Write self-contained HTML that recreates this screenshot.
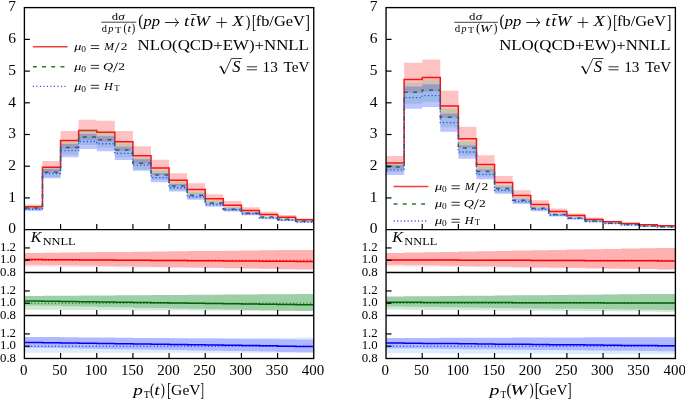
<!DOCTYPE html>
<html><head><meta charset="utf-8"><style>
html,body{margin:0;padding:0;background:#fff;}
svg{display:block;will-change:transform;}
text{font-family:"Liberation Serif", serif;fill:#000;}
</style></head><body>
<svg width="685" height="399" viewBox="0 0 685 399">
<rect width="685" height="399" fill="#fff"/>
<path d="M24.4 204.5H42.48V208.76H24.4ZM42.48 161H60.57V172.75H42.48ZM60.57 131.05H78.65V148.69H60.57ZM78.65 119.8H96.74V139.8H78.65ZM96.74 120.8H114.82V141.81H96.74ZM114.82 131H132.91V150.64H114.82ZM132.91 146.3H150.99V163.45H132.91ZM150.99 159.8H169.08V174.65H150.99ZM169.08 173.2H187.16V185.7H169.08ZM187.16 183.3H205.24V194.01H187.16ZM205.24 194.3H223.33V202.35H205.24ZM223.33 201H241.41V208.17H223.33ZM241.41 207.3H259.5V212.73H241.41ZM259.5 211.85H277.58V216.37H259.5ZM277.58 215H295.67V218.78H277.58ZM295.67 218.5H313.75V221.07H295.67Z" fill="#ff0000" fill-opacity="0.24"/>
<path d="M25.1 206.8 L42.48 206.8 L42.48 167.2 L60.57 167.2 L60.57 140.5 L78.65 140.5 L78.65 130.4 L96.74 130.4 L96.74 132.3 L114.82 132.3 L114.82 141.8 L132.91 141.8 L132.91 155.8 L150.99 155.8 L150.99 168.1 L169.08 168.1 L169.08 180.3 L187.16 180.3 L187.16 189.5 L205.24 189.5 L205.24 198.8 L223.33 198.8 L223.33 205.3 L241.41 205.3 L241.41 210.4 L259.5 210.4 L259.5 214.5 L277.58 214.5 L277.58 217.2 L295.67 217.2 L295.67 219.8 L313.05 219.8" fill="none" stroke="#ff1010" stroke-width="1.5"/>
<path d="M24.4 206.49H42.48V209.77H24.4ZM42.48 168.1H60.57V177.11H42.48ZM60.57 141.31H78.65V154.63H60.57ZM78.65 129.48H96.74V145.02H78.65ZM96.74 132.32H114.82V147.83H96.74ZM114.82 143.21H132.91V157.36H114.82ZM132.91 157.22H150.99V169.39H132.91ZM150.99 169.79H169.08V180.1H150.99ZM169.08 181.68H187.16V190.14H169.08ZM187.16 191.87H205.24V198.69H187.16ZM205.24 200.14H223.33V205.59H205.24ZM223.33 207.02H241.41V211.29H223.33ZM241.41 211.4H259.5V214.91H241.41ZM259.5 215.46H277.58V218.25H259.5ZM277.58 218.1H295.67V220.41H277.58ZM295.67 220.19H313.75V222.12H295.67Z" fill="#00be46" fill-opacity="0.18"/>
<path d="M25.1 208 L42.48 208 L42.48 172.3 L60.57 172.3 L60.57 147.6 L78.65 147.6 L78.65 136.9 L96.74 136.9 L96.74 139.8 L114.82 139.8 L114.82 150.1 L132.91 150.1 L132.91 163.2 L150.99 163.2 L150.99 174.9 L169.08 174.9 L169.08 185.9 L187.16 185.9 L187.16 195.3 L205.24 195.3 L205.24 202.9 L223.33 202.9 L223.33 209.2 L241.41 209.2 L241.41 213.2 L259.5 213.2 L259.5 216.9 L277.58 216.9 L277.58 219.3 L295.67 219.3 L295.67 221.2 L313.05 221.2" fill="none" stroke="#1e7d1e" stroke-width="1.5" stroke-dasharray="3.9 5.3"/>
<path d="M24.4 207.64H42.48V211.01H24.4ZM42.48 168.94H60.57V178.35H42.48ZM60.57 143.93H78.65V157.35H60.57ZM78.65 133.96H96.74V149.09H78.65ZM96.74 136.35H114.82V151.26H96.74ZM114.82 146.69H132.91V160.08H114.82ZM132.91 159.35H150.99V170.8H132.91ZM150.99 172.9H169.08V182.23H150.99ZM169.08 183.97H187.16V191.56H169.08ZM187.16 193.76H205.24V199.77H187.16ZM205.24 202.14H223.33V206.79H205.24ZM223.33 207.92H241.41V211.62H223.33ZM241.41 212.28H259.5V215.27H241.41ZM259.5 216.98H277.58V219.18H259.5ZM277.58 219.27H295.67V221.09H277.58ZM295.67 221.24H313.75V222.72H295.67Z" fill="#283cff" fill-opacity="0.3"/>
<path d="M25.1 209.3 L42.48 209.3 L42.48 173.6 L60.57 173.6 L60.57 150.6 L78.65 150.6 L78.65 141.5 L96.74 141.5 L96.74 143.8 L114.82 143.8 L114.82 153.4 L132.91 153.4 L132.91 165.1 L150.99 165.1 L150.99 177.6 L169.08 177.6 L169.08 187.8 L187.16 187.8 L187.16 196.8 L205.24 196.8 L205.24 204.5 L223.33 204.5 L223.33 209.8 L241.41 209.8 L241.41 213.8 L259.5 213.8 L259.5 218.1 L277.58 218.1 L277.58 220.2 L295.67 220.2 L295.67 222 L313.05 222" fill="none" stroke="#3c3cff" stroke-width="1.4" stroke-dasharray="1.2 2.3"/>
<path d="M24.4 254.08H42.48V266.42H24.4ZM42.48 253.88H60.57V266.58H42.48ZM60.57 253.67H78.65V266.74H60.57ZM78.65 253.47H96.74V266.9H78.65ZM96.74 253.26H114.82V267.06H96.74ZM114.82 253.06H132.91V267.22H114.82ZM132.91 252.85H150.99V267.38H132.91ZM150.99 252.65H169.08V267.54H150.99ZM169.08 252.44H187.16V267.7H169.08ZM187.16 252.24H205.24V267.86H187.16ZM205.24 252.03H223.33V268.02H205.24ZM223.33 251.83H241.41V268.18H223.33ZM241.41 251.62H259.5V268.34H241.41ZM259.5 251.42H277.58V268.5H259.5ZM277.58 251.21H295.67V268.66H277.58ZM295.67 251.01H313.75V268.82H295.67Z" fill="#ffdcdc"/>
<path d="M24.4 252.91H42.48V264.64H24.4ZM42.48 252.71H60.57V264.96H42.48ZM60.57 252.51H78.65V265.29H60.57ZM78.65 252.31H96.74V265.61H78.65ZM96.74 252.11H114.82V265.93H96.74ZM114.82 251.91H132.91V266.26H114.82ZM132.91 251.71H150.99V266.58H132.91ZM150.99 251.51H169.08V266.9H150.99ZM169.08 251.31H187.16V267.23H169.08ZM187.16 251.11H205.24V267.55H187.16ZM205.24 250.91H223.33V267.87H205.24ZM223.33 250.71H241.41V268.2H223.33ZM241.41 250.51H259.5V268.52H241.41ZM259.5 250.31H277.58V268.84H259.5ZM277.58 250.11H295.67V269.17H277.58ZM295.67 249.9H313.75V269.49H295.67Z" fill="#ffb0b0"/>
<line x1="24.4" y1="260.22" x2="313.75" y2="260.22" stroke="#ff0000" stroke-width="1" stroke-dasharray="1 2.4"/>
<path d="M24.4 259.61 L42.48 259.61 L42.48 259.73 L60.57 259.73 L60.57 259.85 L78.65 259.85 L78.65 259.97 L96.74 259.97 L96.74 260.1 L114.82 260.1 L114.82 260.22 L132.91 260.22 L132.91 260.34 L150.99 260.34 L150.99 260.47 L169.08 260.47 L169.08 260.59 L187.16 260.59 L187.16 260.71 L205.24 260.71 L205.24 260.83 L223.33 260.83 L223.33 260.96 L241.41 260.96 L241.41 261.08 L259.5 261.08 L259.5 261.2 L277.58 261.2 L277.58 261.33 L295.67 261.33 L295.67 261.45 L313.75 261.45" fill="none" stroke="#ff0000" stroke-width="1.5"/>
<line x1="24.4" y1="247.94" x2="29.9" y2="247.94" stroke="#000" stroke-width="1.2"/>
<line x1="24.4" y1="260.22" x2="29.9" y2="260.22" stroke="#000" stroke-width="1.2"/>
<line x1="60.57" y1="272.5" x2="60.57" y2="267" stroke="#000" stroke-width="1.2"/>
<line x1="96.74" y1="272.5" x2="96.74" y2="267" stroke="#000" stroke-width="1.2"/>
<line x1="132.91" y1="272.5" x2="132.91" y2="267" stroke="#000" stroke-width="1.2"/>
<line x1="169.08" y1="272.5" x2="169.08" y2="267" stroke="#000" stroke-width="1.2"/>
<line x1="205.24" y1="272.5" x2="205.24" y2="267" stroke="#000" stroke-width="1.2"/>
<line x1="241.41" y1="272.5" x2="241.41" y2="267" stroke="#000" stroke-width="1.2"/>
<line x1="277.58" y1="272.5" x2="277.58" y2="267" stroke="#000" stroke-width="1.2"/>
<path d="M24.4 297.08H42.48V309.73H24.4ZM42.48 296.88H60.57V309.81H42.48ZM60.57 296.67H78.65V309.88H60.57ZM78.65 296.47H96.74V309.96H78.65ZM96.74 296.26H114.82V310.04H96.74ZM114.82 296.06H132.91V310.12H114.82ZM132.91 295.85H150.99V310.2H132.91ZM150.99 295.65H169.08V310.27H150.99ZM169.08 295.44H187.16V310.35H169.08ZM187.16 295.24H205.24V310.43H187.16ZM205.24 295.03H223.33V310.51H205.24ZM223.33 294.83H241.41V310.58H223.33ZM241.41 294.62H259.5V310.66H241.41ZM259.5 294.42H277.58V310.74H259.5ZM277.58 294.21H295.67V310.82H277.58ZM295.67 294.01H313.75V310.9H295.67Z" fill="#cfe9d4"/>
<path d="M24.4 295.91H42.48V305.43H24.4ZM42.48 295.79H60.57V305.81H42.48ZM60.57 295.66H78.65V306.18H60.57ZM78.65 295.53H96.74V306.56H78.65ZM96.74 295.41H114.82V306.94H96.74ZM114.82 295.28H132.91V307.31H114.82ZM132.91 295.15H150.99V307.69H132.91ZM150.99 295.03H169.08V308.07H150.99ZM169.08 294.9H187.16V308.44H169.08ZM187.16 294.77H205.24V308.82H187.16ZM205.24 294.64H223.33V309.2H205.24ZM223.33 294.52H241.41V309.57H223.33ZM241.41 294.39H259.5V309.95H241.41ZM259.5 294.26H277.58V310.33H259.5ZM277.58 294.14H295.67V310.7H277.58ZM295.67 294.01H313.75V311.08H295.67Z" fill="#9ccfa6"/>
<line x1="24.4" y1="303.22" x2="313.75" y2="303.22" stroke="#006400" stroke-width="1" stroke-dasharray="1 2.4"/>
<path d="M24.4 300.95 L42.48 300.95 L42.48 301.19 L60.57 301.19 L60.57 301.44 L78.65 301.44 L78.65 301.69 L96.74 301.69 L96.74 301.93 L114.82 301.93 L114.82 302.18 L132.91 302.18 L132.91 302.42 L150.99 302.42 L150.99 302.67 L169.08 302.67 L169.08 302.91 L187.16 302.91 L187.16 303.16 L205.24 303.16 L205.24 303.4 L223.33 303.4 L223.33 303.65 L241.41 303.65 L241.41 303.9 L259.5 303.9 L259.5 304.14 L277.58 304.14 L277.58 304.39 L295.67 304.39 L295.67 304.63 L313.75 304.63" fill="none" stroke="#006400" stroke-width="1.5"/>
<line x1="24.4" y1="290.94" x2="29.9" y2="290.94" stroke="#000" stroke-width="1.2"/>
<line x1="24.4" y1="303.22" x2="29.9" y2="303.22" stroke="#000" stroke-width="1.2"/>
<line x1="60.57" y1="315.5" x2="60.57" y2="310" stroke="#000" stroke-width="1.2"/>
<line x1="96.74" y1="315.5" x2="96.74" y2="310" stroke="#000" stroke-width="1.2"/>
<line x1="132.91" y1="315.5" x2="132.91" y2="310" stroke="#000" stroke-width="1.2"/>
<line x1="169.08" y1="315.5" x2="169.08" y2="310" stroke="#000" stroke-width="1.2"/>
<line x1="205.24" y1="315.5" x2="205.24" y2="310" stroke="#000" stroke-width="1.2"/>
<line x1="241.41" y1="315.5" x2="241.41" y2="310" stroke="#000" stroke-width="1.2"/>
<line x1="277.58" y1="315.5" x2="277.58" y2="310" stroke="#000" stroke-width="1.2"/>
<path d="M24.4 338.85H42.48V352.73H24.4ZM42.48 338.77H60.57V352.74H42.48ZM60.57 338.69H78.65V352.76H60.57ZM78.65 338.61H96.74V352.78H78.65ZM96.74 338.52H114.82V352.79H96.74ZM114.82 338.44H132.91V352.81H114.82ZM132.91 338.36H150.99V352.83H132.91ZM150.99 338.28H169.08V352.84H150.99ZM169.08 338.2H187.16V352.86H169.08ZM187.16 338.12H205.24V352.88H187.16ZM205.24 338.03H223.33V352.89H205.24ZM223.33 337.95H241.41V352.91H223.33ZM241.41 337.87H259.5V352.92H241.41ZM259.5 337.79H277.58V352.94H259.5ZM277.58 337.71H295.67V352.96H277.58ZM295.67 337.62H313.75V352.97H295.67Z" fill="#dcecff"/>
<path d="M24.4 336.89H42.48V347.76H24.4ZM42.48 337.06H60.57V348.05H42.48ZM60.57 337.23H78.65V348.34H60.57ZM78.65 337.4H96.74V348.64H78.65ZM96.74 337.57H114.82V348.93H96.74ZM114.82 337.75H132.91V349.23H114.82ZM132.91 337.92H150.99V349.52H132.91ZM150.99 338.09H169.08V349.82H150.99ZM169.08 338.26H187.16V350.11H169.08ZM187.16 338.43H205.24V350.41H187.16ZM205.24 338.61H223.33V350.7H205.24ZM223.33 338.78H241.41V351H223.33ZM241.41 338.95H259.5V351.29H241.41ZM259.5 339.12H277.58V351.59H259.5ZM277.58 339.29H295.67V351.88H277.58ZM295.67 339.47H313.75V352.18H295.67Z" fill="#b0b8ff"/>
<line x1="24.4" y1="346.22" x2="313.75" y2="346.22" stroke="#0000ff" stroke-width="1" stroke-dasharray="1 2.4"/>
<path d="M24.4 342.41 L42.48 342.41 L42.48 342.68 L60.57 342.68 L60.57 342.95 L78.65 342.95 L78.65 343.21 L96.74 343.21 L96.74 343.48 L114.82 343.48 L114.82 343.74 L132.91 343.74 L132.91 344.01 L150.99 344.01 L150.99 344.28 L169.08 344.28 L169.08 344.54 L187.16 344.54 L187.16 344.81 L205.24 344.81 L205.24 345.07 L223.33 345.07 L223.33 345.34 L241.41 345.34 L241.41 345.61 L259.5 345.61 L259.5 345.87 L277.58 345.87 L277.58 346.14 L295.67 346.14 L295.67 346.4 L313.75 346.4" fill="none" stroke="#0000ff" stroke-width="1.5"/>
<line x1="24.4" y1="333.94" x2="29.9" y2="333.94" stroke="#000" stroke-width="1.2"/>
<line x1="24.4" y1="346.22" x2="29.9" y2="346.22" stroke="#000" stroke-width="1.2"/>
<line x1="60.57" y1="358.5" x2="60.57" y2="353" stroke="#000" stroke-width="1.2"/>
<line x1="96.74" y1="358.5" x2="96.74" y2="353" stroke="#000" stroke-width="1.2"/>
<line x1="132.91" y1="358.5" x2="132.91" y2="353" stroke="#000" stroke-width="1.2"/>
<line x1="169.08" y1="358.5" x2="169.08" y2="353" stroke="#000" stroke-width="1.2"/>
<line x1="205.24" y1="358.5" x2="205.24" y2="353" stroke="#000" stroke-width="1.2"/>
<line x1="241.41" y1="358.5" x2="241.41" y2="353" stroke="#000" stroke-width="1.2"/>
<line x1="277.58" y1="358.5" x2="277.58" y2="353" stroke="#000" stroke-width="1.2"/>
<line x1="24.4" y1="197.9" x2="29.9" y2="197.9" stroke="#000" stroke-width="1.2"/>
<line x1="24.4" y1="166.2" x2="29.9" y2="166.2" stroke="#000" stroke-width="1.2"/>
<line x1="24.4" y1="134.5" x2="29.9" y2="134.5" stroke="#000" stroke-width="1.2"/>
<line x1="24.4" y1="102.8" x2="29.9" y2="102.8" stroke="#000" stroke-width="1.2"/>
<line x1="24.4" y1="71.1" x2="29.9" y2="71.1" stroke="#000" stroke-width="1.2"/>
<line x1="24.4" y1="39.4" x2="29.9" y2="39.4" stroke="#000" stroke-width="1.2"/>
<line x1="60.57" y1="229.6" x2="60.57" y2="224.1" stroke="#000" stroke-width="1.2"/>
<line x1="96.74" y1="229.6" x2="96.74" y2="224.1" stroke="#000" stroke-width="1.2"/>
<line x1="132.91" y1="229.6" x2="132.91" y2="224.1" stroke="#000" stroke-width="1.2"/>
<line x1="169.08" y1="229.6" x2="169.08" y2="224.1" stroke="#000" stroke-width="1.2"/>
<line x1="205.24" y1="229.6" x2="205.24" y2="224.1" stroke="#000" stroke-width="1.2"/>
<line x1="241.41" y1="229.6" x2="241.41" y2="224.1" stroke="#000" stroke-width="1.2"/>
<line x1="277.58" y1="229.6" x2="277.58" y2="224.1" stroke="#000" stroke-width="1.2"/>
<rect x="24.4" y="7.6" width="289.35" height="350.9" fill="none" stroke="#000" stroke-width="1.35"/>
<line x1="24.4" y1="229.6" x2="313.75" y2="229.6" stroke="#000" stroke-width="1.3"/>
<line x1="24.4" y1="272.5" x2="313.75" y2="272.5" stroke="#000" stroke-width="1.3"/>
<line x1="24.4" y1="315.5" x2="313.75" y2="315.5" stroke="#000" stroke-width="1.3"/>
<path d="M386.05 156.05H404.13V168.64H386.05ZM404.13 62.8H422.22V92.76H404.13ZM422.22 59.5H440.3V91.56H422.22ZM440.3 90.7H458.39V117.76H440.3ZM458.39 126.8H476.47V147.67H458.39ZM476.47 155.3H494.56V170.96H476.47ZM494.56 176H512.64V187.47H494.56ZM512.64 190.3H530.73V199.13H512.64ZM530.73 200.3H548.81V207.25H530.73ZM548.81 208.4H566.89V213.62H548.81ZM566.89 213.4H584.98V217.13H566.89ZM584.98 217.6H603.06V220.69H584.98ZM603.06 220.8H621.15V222.66H603.06ZM621.15 222.7H639.23V224.17H621.15ZM639.23 224H657.32V225.41H639.23ZM657.32 224.9H675.4V226.21H657.32Z" fill="#ff0000" fill-opacity="0.24"/>
<path d="M386.75 162.9 L404.13 162.9 L404.13 79.4 L422.22 79.4 L422.22 77.6 L440.3 77.6 L440.3 106.05 L458.39 106.05 L458.39 138.8 L476.47 138.8 L476.47 164.4 L494.56 164.4 L494.56 182.6 L512.64 182.6 L512.64 195.5 L530.73 195.5 L530.73 204.5 L548.81 204.5 L548.81 211.6 L566.89 211.6 L566.89 215.5 L584.98 215.5 L584.98 219.5 L603.06 219.5 L603.06 221.7 L621.15 221.7 L621.15 223.4 L639.23 223.4 L639.23 224.8 L657.32 224.8 L657.32 225.7 L674.7 225.7" fill="none" stroke="#ff1010" stroke-width="1.5"/>
<path d="M386.05 162.72H404.13V172.22H386.05ZM404.13 82.23H422.22V103.81H404.13ZM422.22 79.19H440.3V101.88H422.22ZM440.3 108.32H458.39V127.14H440.3ZM458.39 141.31H476.47V155.39H458.39ZM476.47 166.36H494.56V176.72H476.47ZM494.56 184.91H512.64V192.42H494.56ZM512.64 197.57H530.73V203.09H512.64ZM530.73 206.13H548.81V210.27H530.73ZM548.81 212.88H566.89V215.9H548.81ZM566.89 216.69H584.98V219.08H566.89ZM584.98 220.08H603.06V221.88H584.98ZM603.06 222.61H621.15V223.96H603.06ZM621.15 223.92H639.23V225.04H621.15ZM639.23 225.58H657.32V226.39H639.23ZM657.32 226.46H675.4V227.11H657.32Z" fill="#00be46" fill-opacity="0.18"/>
<path d="M386.75 167.1 L404.13 167.1 L404.13 92.3 L422.22 92.3 L422.22 89.9 L440.3 89.9 L440.3 117.3 L458.39 117.3 L458.39 148.1 L476.47 148.1 L476.47 171.4 L494.56 171.4 L494.56 188.6 L512.64 188.6 L512.64 200.3 L530.73 200.3 L530.73 208.2 L548.81 208.2 L548.81 214.4 L566.89 214.4 L566.89 217.9 L584.98 217.9 L584.98 221 L603.06 221 L603.06 223.3 L621.15 223.3 L621.15 224.5 L639.23 224.5 L639.23 226 L657.32 226 L657.32 226.8 L674.7 226.8" fill="none" stroke="#1e7d1e" stroke-width="1.5" stroke-dasharray="3.9 5.3"/>
<path d="M386.05 165H404.13V174.91H386.05ZM404.13 86.62H422.22V108.78H404.13ZM422.22 84.29H440.3V107.05H422.22ZM440.3 113.44H458.39V131.82H440.3ZM458.39 145.26H476.47V158.75H458.39ZM476.47 169.54H494.56V179.24H476.47ZM494.56 186.79H512.64V193.77H494.56ZM512.64 198.96H530.73V204H512.64ZM530.73 207.55H548.81V211.22H530.73ZM548.81 213.75H566.89V216.41H548.81ZM566.89 217.57H584.98V219.6H566.89ZM584.98 220.84H603.06V222.34H584.98ZM603.06 222.91H621.15V224.07H603.06ZM621.15 224.55H639.23V225.43H621.15ZM639.23 225.97H657.32V226.61H639.23ZM657.32 226.85H675.4V227.34H657.32Z" fill="#283cff" fill-opacity="0.3"/>
<path d="M386.75 169.9 L404.13 169.9 L404.13 97.6 L422.22 97.6 L422.22 95.6 L440.3 95.6 L440.3 122.6 L458.39 122.6 L458.39 152 L476.47 152 L476.47 174.4 L494.56 174.4 L494.56 190.3 L512.64 190.3 L512.64 201.5 L530.73 201.5 L530.73 209.4 L548.81 209.4 L548.81 215.1 L566.89 215.1 L566.89 218.6 L584.98 218.6 L584.98 221.6 L603.06 221.6 L603.06 223.5 L621.15 223.5 L621.15 225 L639.23 225 L639.23 226.3 L657.32 226.3 L657.32 227.1 L674.7 227.1" fill="none" stroke="#3c3cff" stroke-width="1.4" stroke-dasharray="1.2 2.3"/>
<path d="M386.05 254.08H404.13V266.18H386.05ZM404.13 253.88H422.22V266.39H404.13ZM422.22 253.67H440.3V266.61H422.22ZM440.3 253.47H458.39V266.83H440.3ZM458.39 253.26H476.47V267.04H458.39ZM476.47 253.06H494.56V267.26H476.47ZM494.56 252.85H512.64V267.48H494.56ZM512.64 252.65H530.73V267.69H512.64ZM530.73 252.44H548.81V267.91H530.73ZM548.81 252.24H566.89V268.13H548.81ZM566.89 252.03H584.98V268.35H566.89ZM584.98 251.83H603.06V268.56H584.98ZM603.06 251.62H621.15V268.78H603.06ZM621.15 251.42H639.23V269H621.15ZM639.23 251.21H657.32V269.21H639.23ZM657.32 251.01H675.4V269.43H657.32Z" fill="#ffdcdc"/>
<path d="M386.05 252.91H404.13V264.7H386.05ZM404.13 252.58H422.22V265.02H404.13ZM422.22 252.25H440.3V265.33H422.22ZM440.3 251.92H458.39V265.65H440.3ZM458.39 251.59H476.47V265.96H458.39ZM476.47 251.26H494.56V266.28H476.47ZM494.56 250.92H512.64V266.59H494.56ZM512.64 250.59H530.73V266.91H512.64ZM530.73 250.26H548.81V267.22H530.73ZM548.81 249.93H566.89V267.54H548.81ZM566.89 249.6H584.98V267.85H566.89ZM584.98 249.27H603.06V268.17H584.98ZM603.06 248.93H621.15V268.48H603.06ZM621.15 248.6H639.23V268.8H621.15ZM639.23 248.27H657.32V269.11H639.23ZM657.32 247.94H675.4V269.43H657.32Z" fill="#ffb0b0"/>
<line x1="386.05" y1="260.22" x2="675.4" y2="260.22" stroke="#ff0000" stroke-width="1" stroke-dasharray="1 2.4"/>
<path d="M386.05 259.91 L404.13 259.91 L404.13 259.98 L422.22 259.98 L422.22 260.04 L440.3 260.04 L440.3 260.11 L458.39 260.11 L458.39 260.17 L476.47 260.17 L476.47 260.24 L494.56 260.24 L494.56 260.31 L512.64 260.31 L512.64 260.37 L530.73 260.37 L530.73 260.44 L548.81 260.44 L548.81 260.5 L566.89 260.5 L566.89 260.57 L584.98 260.57 L584.98 260.63 L603.06 260.63 L603.06 260.7 L621.15 260.7 L621.15 260.76 L639.23 260.76 L639.23 260.83 L657.32 260.83 L657.32 260.9 L675.4 260.9" fill="none" stroke="#ff0000" stroke-width="1.5"/>
<line x1="386.05" y1="247.94" x2="391.55" y2="247.94" stroke="#000" stroke-width="1.2"/>
<line x1="386.05" y1="260.22" x2="391.55" y2="260.22" stroke="#000" stroke-width="1.2"/>
<line x1="422.22" y1="272.5" x2="422.22" y2="267" stroke="#000" stroke-width="1.2"/>
<line x1="458.39" y1="272.5" x2="458.39" y2="267" stroke="#000" stroke-width="1.2"/>
<line x1="494.56" y1="272.5" x2="494.56" y2="267" stroke="#000" stroke-width="1.2"/>
<line x1="530.73" y1="272.5" x2="530.73" y2="267" stroke="#000" stroke-width="1.2"/>
<line x1="566.89" y1="272.5" x2="566.89" y2="267" stroke="#000" stroke-width="1.2"/>
<line x1="603.06" y1="272.5" x2="603.06" y2="267" stroke="#000" stroke-width="1.2"/>
<line x1="639.23" y1="272.5" x2="639.23" y2="267" stroke="#000" stroke-width="1.2"/>
<path d="M386.05 297.08H404.13V309.61H386.05ZM404.13 296.88H422.22V309.74H404.13ZM422.22 296.67H440.3V309.88H422.22ZM440.3 296.47H458.39V310.01H440.3ZM458.39 296.26H476.47V310.15H458.39ZM476.47 296.06H494.56V310.28H476.47ZM494.56 295.85H512.64V310.42H494.56ZM512.64 295.65H530.73V310.55H512.64ZM530.73 295.44H548.81V310.69H530.73ZM548.81 295.24H566.89V310.82H548.81ZM566.89 295.03H584.98V310.96H566.89ZM584.98 294.83H603.06V311.09H584.98ZM603.06 294.62H621.15V311.23H603.06ZM621.15 294.42H639.23V311.36H621.15ZM639.23 294.21H657.32V311.5H639.23ZM657.32 294.01H675.4V311.63H657.32Z" fill="#cfe9d4"/>
<path d="M386.05 296.53H404.13V306.54H386.05ZM404.13 296.36H422.22V306.77H404.13ZM422.22 296.18H440.3V307H422.22ZM440.3 296.01H458.39V307.24H440.3ZM458.39 295.84H476.47V307.47H458.39ZM476.47 295.67H494.56V307.7H476.47ZM494.56 295.5H512.64V307.94H494.56ZM512.64 295.32H530.73V308.17H512.64ZM530.73 295.15H548.81V308.4H530.73ZM548.81 294.98H566.89V308.64H548.81ZM566.89 294.81H584.98V308.87H566.89ZM584.98 294.64H603.06V309.1H584.98ZM603.06 294.46H621.15V309.34H603.06ZM621.15 294.29H639.23V309.57H621.15ZM639.23 294.12H657.32V309.8H639.23ZM657.32 293.95H675.4V310.04H657.32Z" fill="#9ccfa6"/>
<line x1="386.05" y1="303.22" x2="675.4" y2="303.22" stroke="#006400" stroke-width="1" stroke-dasharray="1 2.4"/>
<path d="M386.05 302.3 L404.13 302.3 L404.13 302.35 L422.22 302.35 L422.22 302.4 L440.3 302.4 L440.3 302.45 L458.39 302.45 L458.39 302.5 L476.47 302.5 L476.47 302.54 L494.56 302.54 L494.56 302.59 L512.64 302.59 L512.64 302.64 L530.73 302.64 L530.73 302.69 L548.81 302.69 L548.81 302.74 L566.89 302.74 L566.89 302.79 L584.98 302.79 L584.98 302.84 L603.06 302.84 L603.06 302.89 L621.15 302.89 L621.15 302.94 L639.23 302.94 L639.23 302.99 L657.32 302.99 L657.32 303.04 L675.4 303.04" fill="none" stroke="#006400" stroke-width="1.5"/>
<line x1="386.05" y1="290.94" x2="391.55" y2="290.94" stroke="#000" stroke-width="1.2"/>
<line x1="386.05" y1="303.22" x2="391.55" y2="303.22" stroke="#000" stroke-width="1.2"/>
<line x1="422.22" y1="315.5" x2="422.22" y2="310" stroke="#000" stroke-width="1.2"/>
<line x1="458.39" y1="315.5" x2="458.39" y2="310" stroke="#000" stroke-width="1.2"/>
<line x1="494.56" y1="315.5" x2="494.56" y2="310" stroke="#000" stroke-width="1.2"/>
<line x1="530.73" y1="315.5" x2="530.73" y2="310" stroke="#000" stroke-width="1.2"/>
<line x1="566.89" y1="315.5" x2="566.89" y2="310" stroke="#000" stroke-width="1.2"/>
<line x1="603.06" y1="315.5" x2="603.06" y2="310" stroke="#000" stroke-width="1.2"/>
<line x1="639.23" y1="315.5" x2="639.23" y2="310" stroke="#000" stroke-width="1.2"/>
<path d="M386.05 338.85H404.13V353.16H386.05ZM404.13 338.77H422.22V353.24H404.13ZM422.22 338.69H440.3V353.31H422.22ZM440.3 338.61H458.39V353.39H440.3ZM458.39 338.52H476.47V353.47H458.39ZM476.47 338.44H494.56V353.55H476.47ZM494.56 338.36H512.64V353.62H494.56ZM512.64 338.28H530.73V353.7H512.64ZM530.73 338.2H548.81V353.78H530.73ZM548.81 338.12H566.89V353.86H548.81ZM566.89 338.03H584.98V353.94H566.89ZM584.98 337.95H603.06V354.01H584.98ZM603.06 337.87H621.15V354.09H603.06ZM621.15 337.79H639.23V354.17H621.15ZM639.23 337.71H657.32V354.25H639.23ZM657.32 337.62H675.4V354.32H657.32Z" fill="#dcecff"/>
<path d="M386.05 337.99H404.13V348.43H386.05ZM404.13 337.94H422.22V348.61H404.13ZM422.22 337.88H440.3V348.8H422.22ZM440.3 337.82H458.39V348.98H440.3ZM458.39 337.76H476.47V349.17H458.39ZM476.47 337.71H494.56V349.35H476.47ZM494.56 337.65H512.64V349.54H494.56ZM512.64 337.59H530.73V349.72H512.64ZM530.73 337.53H548.81V349.9H530.73ZM548.81 337.48H566.89V350.09H548.81ZM566.89 337.42H584.98V350.27H566.89ZM584.98 337.36H603.06V350.46H584.98ZM603.06 337.3H621.15V350.64H603.06ZM621.15 337.25H639.23V350.83H621.15ZM639.23 337.19H657.32V351.01H639.23ZM657.32 337.13H675.4V351.19H657.32Z" fill="#b0b8ff"/>
<line x1="386.05" y1="346.22" x2="675.4" y2="346.22" stroke="#0000ff" stroke-width="1" stroke-dasharray="1 2.4"/>
<path d="M386.05 343.03 L404.13 343.03 L404.13 343.21 L422.22 343.21 L422.22 343.4 L440.3 343.4 L440.3 343.58 L458.39 343.58 L458.39 343.76 L476.47 343.76 L476.47 343.95 L494.56 343.95 L494.56 344.13 L512.64 344.13 L512.64 344.32 L530.73 344.32 L530.73 344.5 L548.81 344.5 L548.81 344.69 L566.89 344.69 L566.89 344.87 L584.98 344.87 L584.98 345.05 L603.06 345.05 L603.06 345.24 L621.15 345.24 L621.15 345.42 L639.23 345.42 L639.23 345.61 L657.32 345.61 L657.32 345.79 L675.4 345.79" fill="none" stroke="#0000ff" stroke-width="1.5"/>
<line x1="386.05" y1="333.94" x2="391.55" y2="333.94" stroke="#000" stroke-width="1.2"/>
<line x1="386.05" y1="346.22" x2="391.55" y2="346.22" stroke="#000" stroke-width="1.2"/>
<line x1="422.22" y1="358.5" x2="422.22" y2="353" stroke="#000" stroke-width="1.2"/>
<line x1="458.39" y1="358.5" x2="458.39" y2="353" stroke="#000" stroke-width="1.2"/>
<line x1="494.56" y1="358.5" x2="494.56" y2="353" stroke="#000" stroke-width="1.2"/>
<line x1="530.73" y1="358.5" x2="530.73" y2="353" stroke="#000" stroke-width="1.2"/>
<line x1="566.89" y1="358.5" x2="566.89" y2="353" stroke="#000" stroke-width="1.2"/>
<line x1="603.06" y1="358.5" x2="603.06" y2="353" stroke="#000" stroke-width="1.2"/>
<line x1="639.23" y1="358.5" x2="639.23" y2="353" stroke="#000" stroke-width="1.2"/>
<line x1="386.05" y1="197.9" x2="391.55" y2="197.9" stroke="#000" stroke-width="1.2"/>
<line x1="386.05" y1="166.2" x2="391.55" y2="166.2" stroke="#000" stroke-width="1.2"/>
<line x1="386.05" y1="134.5" x2="391.55" y2="134.5" stroke="#000" stroke-width="1.2"/>
<line x1="386.05" y1="102.8" x2="391.55" y2="102.8" stroke="#000" stroke-width="1.2"/>
<line x1="386.05" y1="71.1" x2="391.55" y2="71.1" stroke="#000" stroke-width="1.2"/>
<line x1="386.05" y1="39.4" x2="391.55" y2="39.4" stroke="#000" stroke-width="1.2"/>
<line x1="422.22" y1="229.6" x2="422.22" y2="224.1" stroke="#000" stroke-width="1.2"/>
<line x1="458.39" y1="229.6" x2="458.39" y2="224.1" stroke="#000" stroke-width="1.2"/>
<line x1="494.56" y1="229.6" x2="494.56" y2="224.1" stroke="#000" stroke-width="1.2"/>
<line x1="530.73" y1="229.6" x2="530.73" y2="224.1" stroke="#000" stroke-width="1.2"/>
<line x1="566.89" y1="229.6" x2="566.89" y2="224.1" stroke="#000" stroke-width="1.2"/>
<line x1="603.06" y1="229.6" x2="603.06" y2="224.1" stroke="#000" stroke-width="1.2"/>
<line x1="639.23" y1="229.6" x2="639.23" y2="224.1" stroke="#000" stroke-width="1.2"/>
<rect x="386.05" y="7.6" width="289.35" height="350.9" fill="none" stroke="#000" stroke-width="1.35"/>
<line x1="386.05" y1="229.6" x2="675.4" y2="229.6" stroke="#000" stroke-width="1.3"/>
<line x1="386.05" y1="272.5" x2="675.4" y2="272.5" stroke="#000" stroke-width="1.3"/>
<line x1="386.05" y1="315.5" x2="675.4" y2="315.5" stroke="#000" stroke-width="1.3"/>
<text x="15.9" y="233.3" font-size="15.5" text-anchor="end">0</text>
<text x="15.9" y="201.6" font-size="15.5" text-anchor="end">1</text>
<text x="15.9" y="169.9" font-size="15.5" text-anchor="end">2</text>
<text x="15.9" y="138.2" font-size="15.5" text-anchor="end">3</text>
<text x="15.9" y="106.5" font-size="15.5" text-anchor="end">4</text>
<text x="15.9" y="74.8" font-size="15.5" text-anchor="end">5</text>
<text x="15.9" y="43.1" font-size="15.5" text-anchor="end">6</text>
<text x="15.9" y="11.4" font-size="15.5" text-anchor="end">7</text>
<text x="16" y="250.94" font-size="12.2" text-anchor="end" textLength="16" lengthAdjust="spacingAndGlyphs">1.2</text>
<text x="16" y="263.22" font-size="12.2" text-anchor="end" textLength="16" lengthAdjust="spacingAndGlyphs">1.0</text>
<text x="16" y="275.5" font-size="12.2" text-anchor="end" textLength="16" lengthAdjust="spacingAndGlyphs">0.8</text>
<text x="16" y="293.94" font-size="12.2" text-anchor="end" textLength="16" lengthAdjust="spacingAndGlyphs">1.2</text>
<text x="16" y="306.22" font-size="12.2" text-anchor="end" textLength="16" lengthAdjust="spacingAndGlyphs">1.0</text>
<text x="16" y="318.5" font-size="12.2" text-anchor="end" textLength="16" lengthAdjust="spacingAndGlyphs">0.8</text>
<text x="16" y="336.94" font-size="12.2" text-anchor="end" textLength="16" lengthAdjust="spacingAndGlyphs">1.2</text>
<text x="16" y="349.22" font-size="12.2" text-anchor="end" textLength="16" lengthAdjust="spacingAndGlyphs">1.0</text>
<text x="16" y="361.5" font-size="12.2" text-anchor="end" textLength="16" lengthAdjust="spacingAndGlyphs">0.8</text>
<text x="23.7" y="374.9" font-size="15.5" text-anchor="middle" textLength="7.5" lengthAdjust="spacingAndGlyphs">0</text>
<text x="59.87" y="374.9" font-size="15.5" text-anchor="middle" textLength="15" lengthAdjust="spacingAndGlyphs">50</text>
<text x="96.04" y="374.9" font-size="15.5" text-anchor="middle" textLength="22.5" lengthAdjust="spacingAndGlyphs">100</text>
<text x="132.21" y="374.9" font-size="15.5" text-anchor="middle" textLength="22.5" lengthAdjust="spacingAndGlyphs">150</text>
<text x="168.38" y="374.9" font-size="15.5" text-anchor="middle" textLength="22.5" lengthAdjust="spacingAndGlyphs">200</text>
<text x="204.54" y="374.9" font-size="15.5" text-anchor="middle" textLength="22.5" lengthAdjust="spacingAndGlyphs">250</text>
<text x="240.71" y="374.9" font-size="15.5" text-anchor="middle" textLength="22.5" lengthAdjust="spacingAndGlyphs">300</text>
<text x="276.88" y="374.9" font-size="15.5" text-anchor="middle" textLength="22.5" lengthAdjust="spacingAndGlyphs">350</text>
<text x="313.05" y="374.9" font-size="15.5" text-anchor="middle" textLength="22.5" lengthAdjust="spacingAndGlyphs">400</text>
<text x="377.55" y="233.3" font-size="15.5" text-anchor="end">0</text>
<text x="377.55" y="201.6" font-size="15.5" text-anchor="end">1</text>
<text x="377.55" y="169.9" font-size="15.5" text-anchor="end">2</text>
<text x="377.55" y="138.2" font-size="15.5" text-anchor="end">3</text>
<text x="377.55" y="106.5" font-size="15.5" text-anchor="end">4</text>
<text x="377.55" y="74.8" font-size="15.5" text-anchor="end">5</text>
<text x="377.55" y="43.1" font-size="15.5" text-anchor="end">6</text>
<text x="377.55" y="11.4" font-size="15.5" text-anchor="end">7</text>
<text x="377.65" y="250.94" font-size="12.2" text-anchor="end" textLength="16" lengthAdjust="spacingAndGlyphs">1.2</text>
<text x="377.65" y="263.22" font-size="12.2" text-anchor="end" textLength="16" lengthAdjust="spacingAndGlyphs">1.0</text>
<text x="377.65" y="275.5" font-size="12.2" text-anchor="end" textLength="16" lengthAdjust="spacingAndGlyphs">0.8</text>
<text x="377.65" y="293.94" font-size="12.2" text-anchor="end" textLength="16" lengthAdjust="spacingAndGlyphs">1.2</text>
<text x="377.65" y="306.22" font-size="12.2" text-anchor="end" textLength="16" lengthAdjust="spacingAndGlyphs">1.0</text>
<text x="377.65" y="318.5" font-size="12.2" text-anchor="end" textLength="16" lengthAdjust="spacingAndGlyphs">0.8</text>
<text x="377.65" y="336.94" font-size="12.2" text-anchor="end" textLength="16" lengthAdjust="spacingAndGlyphs">1.2</text>
<text x="377.65" y="349.22" font-size="12.2" text-anchor="end" textLength="16" lengthAdjust="spacingAndGlyphs">1.0</text>
<text x="377.65" y="361.5" font-size="12.2" text-anchor="end" textLength="16" lengthAdjust="spacingAndGlyphs">0.8</text>
<text x="385.35" y="374.9" font-size="15.5" text-anchor="middle" textLength="7.5" lengthAdjust="spacingAndGlyphs">0</text>
<text x="421.52" y="374.9" font-size="15.5" text-anchor="middle" textLength="15" lengthAdjust="spacingAndGlyphs">50</text>
<text x="457.69" y="374.9" font-size="15.5" text-anchor="middle" textLength="22.5" lengthAdjust="spacingAndGlyphs">100</text>
<text x="493.86" y="374.9" font-size="15.5" text-anchor="middle" textLength="22.5" lengthAdjust="spacingAndGlyphs">150</text>
<text x="530.02" y="374.9" font-size="15.5" text-anchor="middle" textLength="22.5" lengthAdjust="spacingAndGlyphs">200</text>
<text x="566.19" y="374.9" font-size="15.5" text-anchor="middle" textLength="22.5" lengthAdjust="spacingAndGlyphs">250</text>
<text x="602.36" y="374.9" font-size="15.5" text-anchor="middle" textLength="22.5" lengthAdjust="spacingAndGlyphs">300</text>
<text x="638.53" y="374.9" font-size="15.5" text-anchor="middle" textLength="22.5" lengthAdjust="spacingAndGlyphs">350</text>
<text x="674.7" y="374.9" font-size="15.5" text-anchor="middle" textLength="22.5" lengthAdjust="spacingAndGlyphs">400</text>
<text x="111.79" y="20.3" font-size="11.3" textLength="6.31" lengthAdjust="spacingAndGlyphs">d</text>
<text x="118.36" y="20.3" font-size="11.3" font-style="italic" textLength="6.47" lengthAdjust="spacingAndGlyphs">σ</text>
<path d="M101.4 22.2L136.3 22.2" stroke="#000" stroke-width="0.75" fill="none"/>
<text x="101.77" y="31.5" font-size="10.6" textLength="5.2" lengthAdjust="spacingAndGlyphs">d</text>
<text x="108.36" y="31.5" font-size="10.6" font-style="italic" textLength="5.21" lengthAdjust="spacingAndGlyphs">p</text>
<text x="115.06" y="33.35" font-size="7.64" textLength="6.36" lengthAdjust="spacingAndGlyphs">T</text>
<text x="123.39" y="31.84" font-size="12.24" textLength="3.5" lengthAdjust="spacingAndGlyphs">(</text>
<text x="127.4" y="31.5" font-size="10.6" font-style="italic" textLength="3.5" lengthAdjust="spacingAndGlyphs">t</text>
<text x="131.81" y="31.74" font-size="11.8" textLength="3.5" lengthAdjust="spacingAndGlyphs">)</text>
<text x="138.18" y="26.18" font-size="16.32" textLength="5.06" lengthAdjust="spacingAndGlyphs">(</text>
<text x="143.52" y="26.4" font-size="15.4" font-style="italic" textLength="16.53" lengthAdjust="spacingAndGlyphs">pp</text>
<path d="M165 22.5 H178.4 M175.3 18.4 Q176.2 21.6 178.7 22.5 Q176.2 23.4 175.3 26.6" fill="none" stroke="#000" stroke-width="0.85"/>
<text x="183.92" y="26.4" font-size="15.4" font-style="italic" textLength="5.25" lengthAdjust="spacingAndGlyphs">t</text>
<text x="190.19" y="26.4" font-size="15.4" font-style="italic" textLength="4.81" lengthAdjust="spacingAndGlyphs">t</text>
<path d="M191 14.5L196.5 14.5" stroke="#000" stroke-width="0.8" fill="none"/>
<text x="195.39" y="26.4" font-size="15.4" font-style="italic" textLength="14.63" lengthAdjust="spacingAndGlyphs">W</text>
<path d="M216.4 22.5 H226.9 M221.65 17.3 V27.8" stroke="#000" stroke-width="0.8"/>
<text x="232.17" y="26.4" font-size="15.4" font-style="italic" textLength="11.38" lengthAdjust="spacingAndGlyphs">X</text>
<text x="245.7" y="26.63" font-size="16.98" textLength="4.67" lengthAdjust="spacingAndGlyphs">)</text>
<text x="252.05" y="27.84" font-size="18.73" textLength="4.04" lengthAdjust="spacingAndGlyphs">[</text>
<text x="255.75" y="26.4" font-size="15.4" textLength="48.99" lengthAdjust="spacingAndGlyphs">fb/GeV</text>
<text x="305.35" y="27.84" font-size="18.73" textLength="4.64" lengthAdjust="spacingAndGlyphs">]</text>
<text x="137.52" y="49.8" font-size="15.3" textLength="171.35" lengthAdjust="spacingAndGlyphs">NLO(QCD+EW)+NNLL</text>
<path d="M219.3 67.4 L220.6 66.3 L224.4 73.6 L231.4 58.5 L241.9 58.5" fill="none" stroke="#000" stroke-width="0.75" stroke-linejoin="miter"/>
<path d="M220.9 66.5 L224.3 73.6" fill="none" stroke="#000" stroke-width="1.3"/>
<text x="232.16" y="72.09" font-size="16.82" font-style="italic" textLength="8.26" lengthAdjust="spacingAndGlyphs">S</text>
<path d="M246.9 66.8 H257 M246.9 69.8 H257" stroke="#000" stroke-width="0.8"/>
<text x="262.61" y="72" font-size="15.3" textLength="15.23" lengthAdjust="spacingAndGlyphs">13</text>
<text x="283.59" y="72" font-size="15.3" textLength="26.03" lengthAdjust="spacingAndGlyphs">TeV</text>
<text x="74.36" y="50.2" font-size="11" font-style="italic" textLength="7.16" lengthAdjust="spacingAndGlyphs">μ</text>
<text x="81.39" y="51.9" font-size="7.7" textLength="4.72" lengthAdjust="spacingAndGlyphs">0</text>
<path d="M90.8 45.6 H99.1 M90.8 48.5 H99.1" stroke="#000" stroke-width="0.8"/>
<text x="104.19" y="50.2" font-size="11" font-style="italic" textLength="9.82" lengthAdjust="spacingAndGlyphs">M</text>
<path d="M119.2 42.6L115 52.6" stroke="#000" stroke-width="0.85" fill="none"/>
<text x="120.76" y="50.2" font-size="11" textLength="6.74" lengthAdjust="spacingAndGlyphs">2</text>
<text x="74.36" y="70" font-size="11" font-style="italic" textLength="7.16" lengthAdjust="spacingAndGlyphs">μ</text>
<text x="81.39" y="71.7" font-size="7.7" textLength="4.72" lengthAdjust="spacingAndGlyphs">0</text>
<path d="M90.8 65.4 H99.1 M90.8 68.3 H99.1" stroke="#000" stroke-width="0.8"/>
<text x="103.08" y="70" font-size="11" font-style="italic" textLength="10.13" lengthAdjust="spacingAndGlyphs">Q</text>
<path d="M117.6 62.4L113.4 72.4" stroke="#000" stroke-width="0.85" fill="none"/>
<text x="118.36" y="70" font-size="11" textLength="6.74" lengthAdjust="spacingAndGlyphs">2</text>
<text x="74.36" y="89.9" font-size="11" font-style="italic" textLength="7.16" lengthAdjust="spacingAndGlyphs">μ</text>
<text x="81.39" y="91.6" font-size="7.7" textLength="4.72" lengthAdjust="spacingAndGlyphs">0</text>
<path d="M90.8 85.3 H99.1 M90.8 88.2 H99.1" stroke="#000" stroke-width="0.8"/>
<text x="103.98" y="89.9" font-size="11" font-style="italic" textLength="8.82" lengthAdjust="spacingAndGlyphs">H</text>
<text x="114.19" y="91.4" font-size="7.7" textLength="5.3" lengthAdjust="spacingAndGlyphs">T</text>
<line x1="32.9" y1="46.8" x2="67.5" y2="46.8" stroke="#f23c3c" stroke-width="1.5"/>
<line x1="32.9" y1="66.7" x2="67.5" y2="66.7" stroke="#1e7d1e" stroke-width="1.5" stroke-dasharray="3.9 5.3"/>
<line x1="32.9" y1="86.3" x2="66" y2="86.3" stroke="#3c3cff" stroke-width="1.3" stroke-dasharray="1.1 2.4"/>
<text x="469.09" y="20.3" font-size="11.3" textLength="6.42" lengthAdjust="spacingAndGlyphs">d</text>
<text x="475.76" y="20.3" font-size="11.3" font-style="italic" textLength="6.47" lengthAdjust="spacingAndGlyphs">σ</text>
<path d="M454.4 22.3L497.9 22.3" stroke="#000" stroke-width="0.75" fill="none"/>
<text x="454.86" y="31.5" font-size="10.6" textLength="5.42" lengthAdjust="spacingAndGlyphs">d</text>
<text x="461.54" y="31.5" font-size="10.6" font-style="italic" textLength="5.02" lengthAdjust="spacingAndGlyphs">p</text>
<text x="467.97" y="33.25" font-size="7.48" textLength="6.15" lengthAdjust="spacingAndGlyphs">T</text>
<text x="475.99" y="31.91" font-size="11.91" textLength="4.28" lengthAdjust="spacingAndGlyphs">(</text>
<text x="480.12" y="31.6" font-size="10.6" font-style="italic" textLength="11.76" lengthAdjust="spacingAndGlyphs">W</text>
<text x="493.8" y="31.91" font-size="11.91" textLength="3.63" lengthAdjust="spacingAndGlyphs">)</text>
<text x="499.48" y="26.18" font-size="16.32" textLength="5.06" lengthAdjust="spacingAndGlyphs">(</text>
<text x="504.82" y="26.4" font-size="15.4" font-style="italic" textLength="16.53" lengthAdjust="spacingAndGlyphs">pp</text>
<path d="M526.3 22.5 H539.7 M536.6 18.4 Q537.5 21.6 540 22.5 Q537.5 23.4 536.6 26.6" fill="none" stroke="#000" stroke-width="0.85"/>
<text x="545.22" y="26.4" font-size="15.4" font-style="italic" textLength="5.25" lengthAdjust="spacingAndGlyphs">t</text>
<text x="551.49" y="26.4" font-size="15.4" font-style="italic" textLength="4.81" lengthAdjust="spacingAndGlyphs">t</text>
<path d="M552.3 14.5L557.8 14.5" stroke="#000" stroke-width="0.8" fill="none"/>
<text x="556.69" y="26.4" font-size="15.4" font-style="italic" textLength="14.63" lengthAdjust="spacingAndGlyphs">W</text>
<path d="M577.7 22.5 H588.2 M582.95 17.3 V27.8" stroke="#000" stroke-width="0.8"/>
<text x="593.47" y="26.4" font-size="15.4" font-style="italic" textLength="11.38" lengthAdjust="spacingAndGlyphs">X</text>
<text x="607" y="26.63" font-size="16.98" textLength="4.67" lengthAdjust="spacingAndGlyphs">)</text>
<text x="613.35" y="27.84" font-size="18.73" textLength="4.04" lengthAdjust="spacingAndGlyphs">[</text>
<text x="617.05" y="26.4" font-size="15.4" textLength="48.99" lengthAdjust="spacingAndGlyphs">fb/GeV</text>
<text x="666.65" y="27.84" font-size="18.73" textLength="4.64" lengthAdjust="spacingAndGlyphs">]</text>
<text x="499.17" y="49.8" font-size="15.3" textLength="171.35" lengthAdjust="spacingAndGlyphs">NLO(QCD+EW)+NNLL</text>
<path d="M580.95 67.4 L582.25 66.3 L586.05 73.6 L593.05 58.5 L603.55 58.5" fill="none" stroke="#000" stroke-width="0.75" stroke-linejoin="miter"/>
<path d="M582.55 66.5 L585.95 73.6" fill="none" stroke="#000" stroke-width="1.3"/>
<text x="593.81" y="72.09" font-size="16.82" font-style="italic" textLength="8.26" lengthAdjust="spacingAndGlyphs">S</text>
<path d="M608.55 66.8 H618.65 M608.55 69.8 H618.65" stroke="#000" stroke-width="0.8"/>
<text x="624.26" y="72" font-size="15.3" textLength="15.23" lengthAdjust="spacingAndGlyphs">13</text>
<text x="645.24" y="72" font-size="15.3" textLength="26.03" lengthAdjust="spacingAndGlyphs">TeV</text>
<text x="435.06" y="190.4" font-size="11" font-style="italic" textLength="7.16" lengthAdjust="spacingAndGlyphs">μ</text>
<text x="442.09" y="192.1" font-size="7.7" textLength="4.72" lengthAdjust="spacingAndGlyphs">0</text>
<path d="M451.5 185.8 H459.8 M451.5 188.7 H459.8" stroke="#000" stroke-width="0.8"/>
<text x="464.89" y="190.4" font-size="11" font-style="italic" textLength="9.82" lengthAdjust="spacingAndGlyphs">M</text>
<path d="M479.9 182.8L475.7 192.8" stroke="#000" stroke-width="0.85" fill="none"/>
<text x="481.46" y="190.4" font-size="11" textLength="6.74" lengthAdjust="spacingAndGlyphs">2</text>
<text x="435.06" y="206.9" font-size="11" font-style="italic" textLength="7.16" lengthAdjust="spacingAndGlyphs">μ</text>
<text x="442.09" y="208.6" font-size="7.7" textLength="4.72" lengthAdjust="spacingAndGlyphs">0</text>
<path d="M451.5 202.3 H459.8 M451.5 205.2 H459.8" stroke="#000" stroke-width="0.8"/>
<text x="463.78" y="206.9" font-size="11" font-style="italic" textLength="10.13" lengthAdjust="spacingAndGlyphs">Q</text>
<path d="M478.3 199.3L474.1 209.3" stroke="#000" stroke-width="0.85" fill="none"/>
<text x="479.06" y="206.9" font-size="11" textLength="6.74" lengthAdjust="spacingAndGlyphs">2</text>
<text x="435.06" y="223.9" font-size="11" font-style="italic" textLength="7.16" lengthAdjust="spacingAndGlyphs">μ</text>
<text x="442.09" y="225.6" font-size="7.7" textLength="4.72" lengthAdjust="spacingAndGlyphs">0</text>
<path d="M451.5 219.3 H459.8 M451.5 222.2 H459.8" stroke="#000" stroke-width="0.8"/>
<text x="464.68" y="223.9" font-size="11" font-style="italic" textLength="8.82" lengthAdjust="spacingAndGlyphs">H</text>
<text x="474.89" y="225.4" font-size="7.7" textLength="5.3" lengthAdjust="spacingAndGlyphs">T</text>
<line x1="393.6" y1="186.4" x2="428.3" y2="186.4" stroke="#f23c3c" stroke-width="1.5"/>
<line x1="393.6" y1="203.9" x2="428.3" y2="203.9" stroke="#1e7d1e" stroke-width="1.5" stroke-dasharray="3.9 5.3"/>
<line x1="393.6" y1="221" x2="426.8" y2="221" stroke="#3c3cff" stroke-width="1.3" stroke-dasharray="1.1 2.4"/>
<text x="30.74" y="242.15" font-size="13.9" font-style="italic" textLength="10.72" lengthAdjust="spacingAndGlyphs">K</text>
<text x="42.69" y="245.25" font-size="10.23" textLength="33" lengthAdjust="spacingAndGlyphs">NNLL</text>
<text x="392.39" y="242.15" font-size="13.9" font-style="italic" textLength="10.72" lengthAdjust="spacingAndGlyphs">K</text>
<text x="404.34" y="245.25" font-size="10.23" textLength="33" lengthAdjust="spacingAndGlyphs">NNLL</text>
<text x="133.17" y="395.1" font-size="15.3" font-style="italic" textLength="9.56" lengthAdjust="spacingAndGlyphs">p</text>
<text x="143.67" y="398.15" font-size="10.54" textLength="6.04" lengthAdjust="spacingAndGlyphs">T</text>
<text x="150.09" y="394.73" font-size="16.54" textLength="4.28" lengthAdjust="spacingAndGlyphs">(</text>
<text x="154.17" y="395.1" font-size="15.3" font-style="italic" textLength="5.58" lengthAdjust="spacingAndGlyphs">t</text>
<text x="160.85" y="394.73" font-size="16.54" textLength="4.15" lengthAdjust="spacingAndGlyphs">)</text>
<text x="167.18" y="395.83" font-size="18.12" textLength="3.89" lengthAdjust="spacingAndGlyphs">[</text>
<text x="171.11" y="395.1" font-size="15.3" textLength="29.52" lengthAdjust="spacingAndGlyphs">GeV</text>
<text x="200.48" y="395.83" font-size="18.12" textLength="3.44" lengthAdjust="spacingAndGlyphs">]</text>
<text x="489.41" y="395.1" font-size="15.3" font-style="italic" textLength="9.94" lengthAdjust="spacingAndGlyphs">p</text>
<text x="500.48" y="398.15" font-size="10.54" textLength="5.72" lengthAdjust="spacingAndGlyphs">T</text>
<text x="506.58" y="394.73" font-size="16.54" textLength="5.06" lengthAdjust="spacingAndGlyphs">(</text>
<text x="510.32" y="395.1" font-size="15.3" font-style="italic" textLength="16.8" lengthAdjust="spacingAndGlyphs">W</text>
<text x="529.45" y="394.73" font-size="16.54" textLength="4.15" lengthAdjust="spacingAndGlyphs">)</text>
<text x="534.72" y="395.83" font-size="18.12" textLength="4.64" lengthAdjust="spacingAndGlyphs">[</text>
<text x="538.72" y="395.1" font-size="15.3" textLength="28.8" lengthAdjust="spacingAndGlyphs">GeV</text>
<text x="567.41" y="395.83" font-size="18.12" textLength="4.04" lengthAdjust="spacingAndGlyphs">]</text>
</svg>
</body></html>
